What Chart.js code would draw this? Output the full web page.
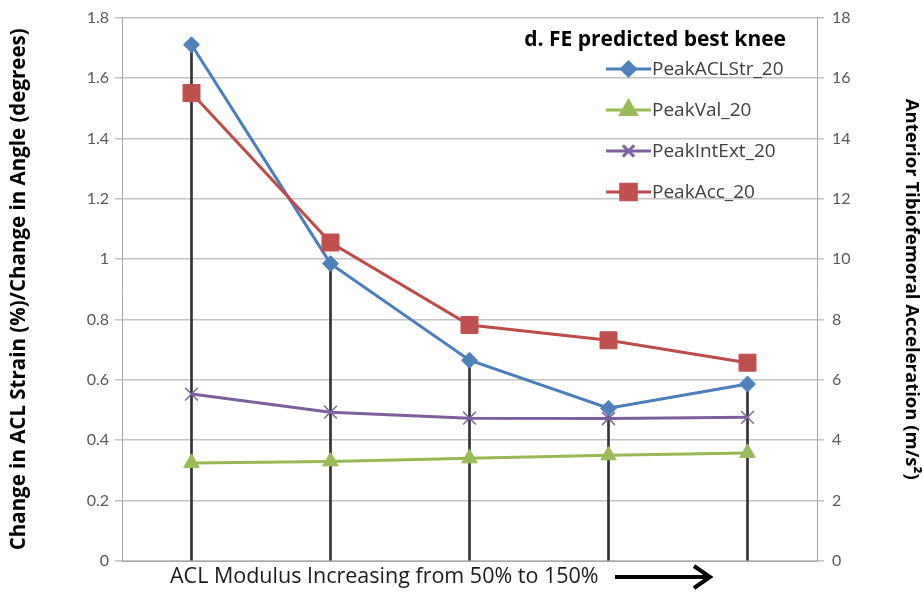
<!DOCTYPE html>
<html>
<head>
<meta charset="utf-8">
<script src="https://cdn.jsdelivr.net/npm/chart.js@4.4.1/dist/chart.umd.min.js"></script>
<style>
  html, body { margin: 0; padding: 0; background: #fff; }
  #wrap { width: 922px; height: 592px; }
</style>
</head>
<body>
<div id="wrap"><canvas id="chart" width="922" height="592"></canvas></div>
<script>
// ACL modulus steps (not labelled on the chart)
const categories = ['50%', '75%', '100%', '125%', '150%']

const peakACLStr = [1.71, 0.985, 0.665, 0.506, 0.586]
const peakVal = [0.325, 0.33, 0.34, 0.35, 0.358]
const peakIntExt = [0.553, 0.493, 0.473, 0.472, 0.476]
const peakAcc = [15.5, 10.55, 7.82, 7.31, 6.57]

const leftTicks = ['0', '0.2', '0.4', '0.6', '0.8', '1', '1.2', '1.4', '1.6', '1.8']
const rightTicks = ['0', '2', '4', '6', '8', '10', '12', '14', '16', '18']

// drop lines go up to the highest primary-axis series
const dropTop = categories.map((c, i) => Math.max(peakACLStr[i], peakVal[i], peakIntExt[i]))

const FONT = 'Lato, "Open Sans", sans-serif'
const WIDE = '"Open Sans", Lato, sans-serif'

const overlay = {
  id: 'overlay',
  afterDraw(chart) {
    const ctx = chart.ctx
    ctx.save()
    // title
    ctx.fillStyle = '#000'
    ctx.font = 'bold 21px ' + WIDE
    ctx.textAlign = 'right'
    ctx.textBaseline = 'middle'
    ctx.fillText('d. FE predicted best knee', 786, 40)

    // legend
    const items = chart.data.datasets.filter(d => d.legend)
    items.forEach((d, i) => {
      const y = 69 + i * 41
      ctx.strokeStyle = d.borderColor
      ctx.lineWidth = 3
      ctx.beginPath()
      ctx.moveTo(606, y)
      ctx.lineTo(651, y)
      ctx.stroke()
      ctx.fillStyle = d.pointBackgroundColor
      ctx.strokeStyle = d.pointBorderColor
      Chart.helpers.drawPoint(ctx, {
        pointStyle: d.pointStyle,
        radius: d.legendRadius,
        rotation: 0,
        borderWidth: d.pointBorderWidth
      }, 628.5, y)
      ctx.fillStyle = '#404040'
      ctx.font = '19px ' + WIDE
      ctx.textAlign = 'left'
      ctx.fillText(d.label, 652, y + 1)
    })

    // bottom caption and arrow
    ctx.fillStyle = '#1a1a1a'
    ctx.font = '21.5px ' + WIDE
    ctx.textAlign = 'left'
    ctx.fillText('ACL Modulus Increasing from 50% to 150%', 170, 577)
    ctx.strokeStyle = '#000'
    ctx.lineWidth = 4
    ctx.beginPath()
    ctx.moveTo(615, 577)
    ctx.lineTo(709, 577)
    ctx.moveTo(694, 566)
    ctx.lineTo(710, 577)
    ctx.lineTo(694, 588)
    ctx.stroke()
    ctx.restore()
  }
}

new Chart(document.getElementById('chart'), {
  data: {
    labels: categories,
    datasets: [
      {
        type: 'line',
        label: 'PeakACLStr_20',
        legend: true,
        legendRadius: 7,
        data: peakACLStr,
        yAxisID: 'y',
        borderColor: '#4A7EBB',
        borderWidth: 3,
        pointStyle: 'rectRot',
        pointRadius: 8,
        pointBackgroundColor: '#4F81BD',
        pointBorderColor: '#4F81BD',
        pointBorderWidth: 1,
        order: 1
      },
      {
        type: 'line',
        label: 'PeakVal_20',
        legend: true,
        legendRadius: 9,
        data: peakVal,
        yAxisID: 'y',
        borderColor: '#98B954',
        borderWidth: 3,
        pointStyle: 'triangle',
        pointRadius: 9,
        pointBackgroundColor: '#9BBB59',
        pointBorderColor: '#9BBB59',
        pointBorderWidth: 1,
        order: 3
      },
      {
        type: 'line',
        label: 'PeakIntExt_20',
        legend: true,
        legendRadius: 8,
        data: peakIntExt,
        yAxisID: 'y',
        borderColor: '#7D5FA0',
        borderWidth: 3,
        pointStyle: 'crossRot',
        pointRadius: 9,
        pointBackgroundColor: '#8064A2',
        pointBorderColor: '#8064A2',
        pointBorderWidth: 1.5,
        order: 2
      },
      {
        type: 'line',
        label: 'PeakAcc_20',
        legend: true,
        legendRadius: 11,
        data: peakAcc,
        yAxisID: 'y1',
        borderColor: '#BE4B48',
        borderWidth: 3,
        pointStyle: 'rect',
        pointRadius: 12,
        pointBackgroundColor: '#C0504D',
        pointBorderColor: '#C0504D',
        pointBorderWidth: 1,
        order: 0
      },
      {
        type: 'bar',
        label: 'drop',
        data: dropTop,
        yAxisID: 'y',
        backgroundColor: '#333333',
        barThickness: 2,
        order: 10
      }
    ]
  },
  options: {
    responsive: false,
    animation: false,
    layout: { padding: { top: 16, bottom: 23, left: 0, right: 0 } },
    plugins: {
      legend: { display: false },
      tooltip: { enabled: false }
    },
    scales: {
      x: {
        type: 'category',
        offset: true,
        grid: { display: false },
        border: { display: true, color: '#a6a6a6', width: 1 },
        ticks: { display: false }
      },
      y: {
        position: 'left',
        min: 0,
        max: 1.8,
        afterFit(s) { s.width = 122 },
        ticks: {
          stepSize: 0.2,
          color: '#595959',
          font: { family: FONT, size: 16 },
          padding: 6,
          callback: (v, i) => leftTicks[i]
        },
        grid: { color: '#c4c4c4', lineWidth: 1.6, tickLength: 7 },
        border: { display: true, color: '#a6a6a6', width: 1 },
        title: {
          display: true,
          text: 'Change in ACL Strain (%)/Change in Angle (degrees)',
          color: '#000',
          font: { family: WIDE, size: 20.5, weight: 'bold' },
          padding: { top: 7, bottom: 0 }
        }
      },
      y1: {
        position: 'right',
        min: 0,
        max: 18,
        afterFit(s) { s.width = 105 },
        ticks: {
          stepSize: 2,
          color: '#595959',
          font: { family: FONT, size: 16 },
          padding: 8,
          callback: (v, i) => rightTicks[i]
        },
        grid: { drawOnChartArea: false, color: '#c4c4c4', lineWidth: 1.6, tickLength: 7 },
        border: { display: true, color: '#a6a6a6', width: 1 },
        title: {
          display: true,
          text: 'Anterior Tibiofemoral Acceleration (m/s²)',
          color: '#000',
          font: { family: WIDE, size: 18.5, weight: 'bold' },
          padding: { top: 0, bottom: 16 }
        }
      }
    }
  },
  plugins: [overlay]
})
</script>
</body>
</html>
